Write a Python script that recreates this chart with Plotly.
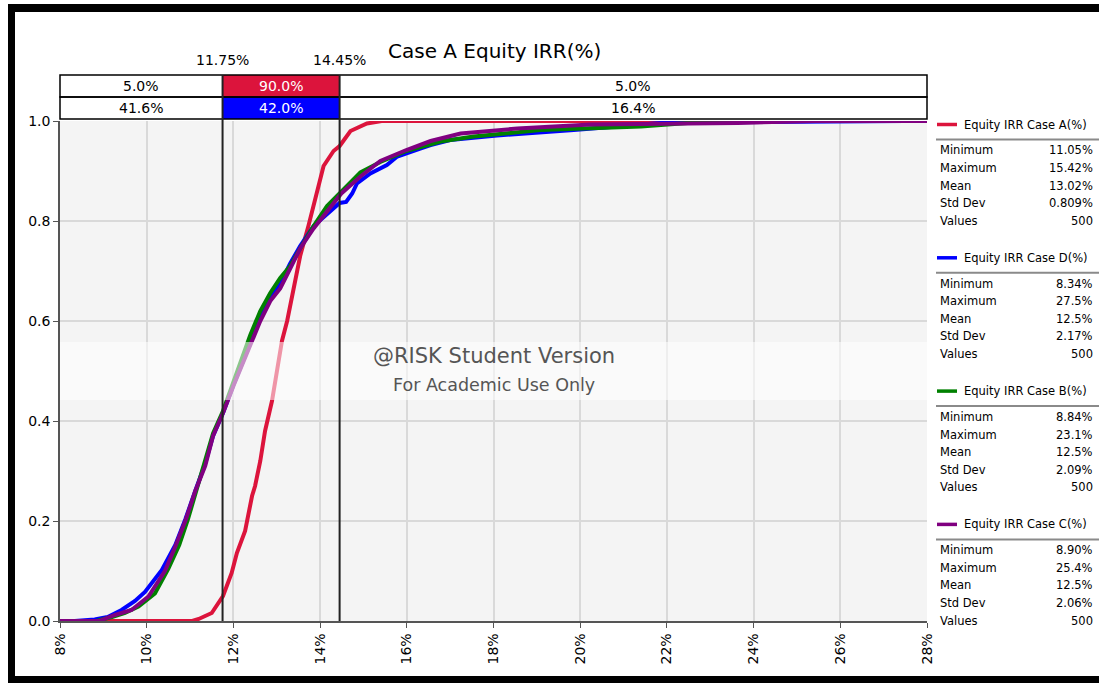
import plotly.graph_objects as go

# ---------------- data ----------------
a_x = [8.0, 11.05, 11.2, 11.5, 11.76, 11.96, 12.08, 12.27, 12.43, 12.5, 12.62, 12.73, 12.89, 12.97,
       13.12, 13.24, 13.35, 13.43, 13.54, 13.73, 13.93, 14.08, 14.31, 14.45, 14.70, 15.08, 15.42, 28.0]
a_p = [0, 0, 0.004, 0.016, 0.05, 0.096, 0.136, 0.18, 0.25, 0.27, 0.32, 0.38, 0.44, 0.48,
       0.56, 0.60, 0.65, 0.68, 0.73, 0.79, 0.86, 0.91, 0.94, 0.95, 0.98, 0.995, 1.0, 1.0]

d_x = [8.0, 8.34, 8.8, 9.1, 9.42, 9.73, 9.96, 10.35, 10.66, 10.89, 11.12, 11.35, 11.53, 11.76, 12.0,
       12.19, 12.39, 12.62, 12.85, 13.08, 13.31, 13.54, 13.85, 14.16, 14.45, 14.6, 14.74, 14.85, 15.16,
       15.54, 15.78, 16.31, 16.55, 17.0, 18.08, 19.85, 22.0, 27.5, 28.0]
d_p = [0, 0, 0.003, 0.008, 0.022, 0.04, 0.058, 0.102, 0.152, 0.203, 0.26, 0.315, 0.37, 0.416, 0.472,
       0.512, 0.556, 0.605, 0.648, 0.675, 0.715, 0.75, 0.79, 0.815, 0.836, 0.838, 0.855, 0.875, 0.895,
       0.912, 0.929, 0.945, 0.952, 0.962, 0.971, 0.982, 0.997, 1.0, 1.0]

b_x = [8.0, 8.84, 9.2, 9.5, 9.81, 10.19, 10.50, 10.75, 10.95, 11.15, 11.35, 11.53, 11.76, 12.0, 12.19,
       12.39, 12.62, 12.85, 13.08, 13.31, 13.54, 13.85, 14.16, 14.45, 14.93, 15.39, 15.99, 16.78, 17.54,
       19.08, 21.4, 23.1, 28.0]
b_p = [0, 0, 0.008, 0.016, 0.029, 0.055, 0.105, 0.152, 0.203, 0.262, 0.32, 0.375, 0.42, 0.478, 0.52,
       0.572, 0.62, 0.656, 0.686, 0.71, 0.745, 0.79, 0.83, 0.855, 0.897, 0.918, 0.94, 0.959, 0.969,
       0.982, 0.989, 1.0, 1.0]

c_x = [8.0, 8.90, 9.27, 9.65, 10.04, 10.42, 10.66, 10.89, 11.12, 11.35, 11.53, 11.76, 12.0, 12.19,
       12.39, 12.62, 12.85, 13.08, 13.31, 13.54, 13.85, 14.16, 14.49, 14.93, 15.39, 15.99, 16.55, 17.24,
       18.55, 20.24, 23.63, 25.4, 28.0]
c_p = [0, 0, 0.012, 0.022, 0.049, 0.10, 0.149, 0.20, 0.26, 0.31, 0.37, 0.416, 0.47, 0.51,
       0.556, 0.60, 0.64, 0.665, 0.705, 0.745, 0.785, 0.82, 0.855, 0.889, 0.92, 0.942, 0.96, 0.975,
       0.985, 0.993, 0.996, 1.0, 1.0]

series_names = ["Equity IRR Case A(%)", "Equity IRR Case D(%)", "Equity IRR Case B(%)", "Equity IRR Case C(%)"]
series_colors = ["#DC143C", "#0000FF", "#008000", "#800080"]
series_x = [a_x, d_x, b_x, c_x]
series_p = [a_p, d_p, b_p, c_p]

stat_labels = ["Minimum", "Maximum", "Mean", "Std Dev", "Values"]
stat_values = [
    ["11.05%", "15.42%", "13.02%", "0.809%", "500"],
    ["8.34%", "27.5%", "12.5%", "2.17%", "500"],
    ["8.84%", "23.1%", "12.5%", "2.09%", "500"],
    ["8.90%", "25.4%", "12.5%", "2.06%", "500"],
]

left_mark, right_mark = 11.75, 14.45
row1_pcts = ["5.0%", "90.0%", "5.0%"]
row2_pcts = ["41.6%", "42.0%", "16.4%"]

x_ticks = list(range(8, 29, 2))
x_tick_text = [f"{v}%" for v in x_ticks]
y_ticks = [0, 0.2, 0.4, 0.6, 0.8, 1.0]
y_tick_text = ["0.0", "0.2", "0.4", "0.6", "0.8", "1.0"]

X0, X1 = 8, 28
FONT = "DejaVu Sans"
TXT = "#000000"

# ---------------- geometry (page pixels -> paper) ----------------
W, H = 1099, 683
PL, PR, PT, PB = 60, 927, 121, 621


def px(x):
    return (x - PL) / (PR - PL)


def py(y):
    return (PB - y) / (PB - PT)


fig = go.Figure()

for name, col, xs, ps in zip(series_names, series_colors, series_x, series_p):
    fig.add_trace(go.Scatter(x=xs, y=ps, mode="lines", name=name,
                             line=dict(color=col, width=4), showlegend=False, hoverinfo="skip"))

# markers at the delimiters
fig.add_trace(go.Scatter(x=[left_mark, right_mark], y=[py(74), py(74)], mode="markers",
                         marker=dict(symbol="triangle-down", size=10, color="#333333"),
                         cliponaxis=False, showlegend=False, hoverinfo="skip"))

shapes = []
annotations = []

# watermark band
shapes.append(dict(type="rect", xref="paper", yref="paper", x0=0, x1=1, y0=py(400), y1=py(342),
                   fillcolor="rgba(255,255,255,0.55)", line=dict(width=0), layer="above"))

# delimiter boxes
r1_top, r1_bot, r2_bot = py(75), py(97), py(119)
shapes.append(dict(type="rect", xref="x", yref="paper", x0=left_mark, x1=right_mark, y0=r1_bot, y1=r1_top,
                   fillcolor="#DC143C", line=dict(width=0), layer="above"))
shapes.append(dict(type="rect", xref="x", yref="paper", x0=left_mark, x1=right_mark, y0=r2_bot, y1=r1_bot,
                   fillcolor="#0000FF", line=dict(width=0), layer="above"))
for (y0, y1) in [(r1_bot, r1_top), (r2_bot, r1_bot)]:
    shapes.append(dict(type="rect", xref="paper", yref="paper", x0=0, x1=1, y0=y0, y1=y1,
                       fillcolor="rgba(0,0,0,0)", line=dict(color="black", width=1.5), layer="above"))
for m in [left_mark, right_mark]:
    shapes.append(dict(type="line", xref="x", yref="paper", x0=m, x1=m, y0=0, y1=r1_top,
                       line=dict(color="#222222", width=2), layer="above"))

segs = [(X0, left_mark), (left_mark, right_mark), (right_mark, X1)]
for row_txt, ymid in [(row1_pcts, (r1_top + r1_bot) / 2), (row2_pcts, (r1_bot + r2_bot) / 2)]:
    for i, (s, e) in enumerate(segs):
        annotations.append(dict(x=(s + e) / 2, y=ymid, xref="x", yref="paper", text=row_txt[i],
                                showarrow=False, xanchor="center", yanchor="middle",
                                font=dict(family=FONT, size=14, color="white" if i == 1 else TXT)))
for m in [left_mark, right_mark]:
    annotations.append(dict(x=m, y=py(60), xref="x", yref="paper", text=f"{m:.2f}%", showarrow=False,
                            xanchor="center", yanchor="middle", font=dict(family=FONT, size=14, color=TXT)))

# watermark text
annotations.append(dict(x=0.5, y=py(356), xref="paper", yref="paper", text="@RISK Student Version",
                        showarrow=False, font=dict(family=FONT, size=21, color="#555555")))
annotations.append(dict(x=0.5, y=py(385), xref="paper", yref="paper", text="For Academic Use Only",
                        showarrow=False, font=dict(family=FONT, size=17.5, color="#555555")))

# title
annotations.append(dict(x=px(494), y=py(37), xref="paper", yref="paper", text="Case A Equity IRR(%)",
                        showarrow=False, font=dict(family=FONT, size=20, color=TXT)))

# right-hand legend / statistics
for g, (name, col, vals) in enumerate(zip(series_names, series_colors, stat_values)):
    off = g * 133.3
    shapes.append(dict(type="line", xref="paper", yref="paper", x0=px(937), x1=px(957),
                       y0=py(124.5 + off), y1=py(124.5 + off), line=dict(color=col, width=3.5)))
    annotations.append(dict(x=px(962), y=py(124.5 + off), xref="paper", yref="paper", text=name,
                            showarrow=False, xanchor="left", yanchor="middle",
                            font=dict(family=FONT, size=11.5, color=TXT)))
    shapes.append(dict(type="line", xref="paper", yref="paper", x0=px(936), x1=px(1099),
                       y0=py(139.5 + off), y1=py(139.5 + off), line=dict(color="#8a8a8a", width=2)))
    for k, (lab, val) in enumerate(zip(stat_labels, vals)):
        yy = py(150.3 + off + k * 17.6)
        annotations.append(dict(x=px(938), y=yy, xref="paper", yref="paper", text=lab, showarrow=False,
                                xanchor="left", yanchor="middle", font=dict(family=FONT, size=11.5, color=TXT)))
        annotations.append(dict(x=px(1094.5), y=yy, xref="paper", yref="paper", text=val, showarrow=False,
                                xanchor="right", yanchor="middle", font=dict(family=FONT, size=11.5, color=TXT)))

# outer frame (left / top / bottom bars)
frame = [(8, 4, 15, 683), (8, 4, 1099, 12), (8, 676, 1099, 683)]
for (fx0, fy0, fx1, fy1) in frame:
    shapes.append(dict(type="rect", xref="paper", yref="paper", x0=px(fx0), x1=px(fx1), y0=py(fy1), y1=py(fy0),
                       line=dict(width=0), fillcolor="black", layer="above"))

fig.update_layout(
    width=W, height=H,
    margin=dict(l=PL, r=W - PR, t=PT, b=H - PB, pad=0),
    paper_bgcolor="white", plot_bgcolor="#f4f4f4",
    font=dict(family=FONT, size=14, color=TXT),
    shapes=shapes, annotations=annotations,
    xaxis=dict(range=[X0, X1], tickvals=x_ticks, ticktext=x_tick_text, tickangle=-90,
               showgrid=True, gridcolor="#d9d9d9", gridwidth=1.5, zeroline=False,
               showline=True, linecolor="#555555", linewidth=1.5, ticks="outside", ticklen=5,
               tickcolor="#555555", tickfont=dict(family=FONT, size=14, color=TXT)),
    yaxis=dict(range=[0, 1], tickvals=y_ticks, ticktext=y_tick_text,
               showgrid=True, gridcolor="#d9d9d9", gridwidth=1.5, zeroline=False,
               showline=True, linecolor="#555555", linewidth=1.5, ticks="outside", ticklen=5,
               tickcolor="#555555", tickfont=dict(family=FONT, size=14, color=TXT)),
)

fig.write_html("out.html", config={"displayModeBar": False},
               post_script="document.body.style.margin='0';document.body.style.overflow='hidden';")
